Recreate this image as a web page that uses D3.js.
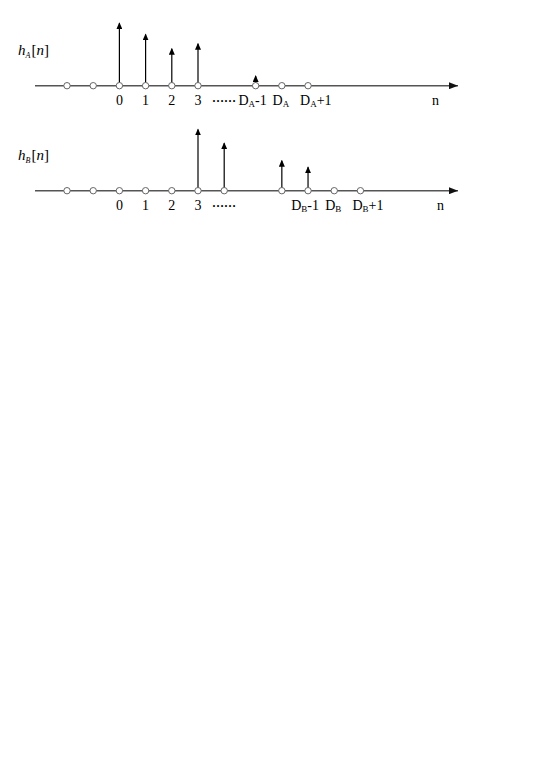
<!DOCTYPE html>
<html>
<head>
<meta charset="utf-8">
<script src="https://cdn.jsdelivr.net/npm/d3@7"></script>
<style>
  body { margin: 0; background: #fff; }
  text { font-family: 'Liberation Serif', 'Times New Roman', serif; fill: #000; }
</style>
</head>
<body>
<div id="chart"></div>
<script>
// sample slots along n (gap after the dots), labels and stem heights
var slotsA = [-2, -1, 0, 1, 2, 3, 5.2, 6.2, 7.2];
var labelsA = ['', '', '0', '1', '2', '3', 'D_A-1', 'D_A', 'D_A+1'];
var heightsA = [0, 0, 1, 0.82, 0.59, 0.67, 0.155, 0, 0];

var slotsB = [-2, -1, 0, 1, 2, 3, 4, 6.2, 7.2, 8.2, 9.2];
var labelsB = ['', '', '0', '1', '2', '3', '', '', 'D_B-1', 'D_B', 'D_B+1'];
var heightsB = [0, 0, 0, 0, 0, 0.98, 0.76, 0.48, 0.375, 0, 0];

var svg = d3.select('#chart').append('svg')
    .attr('width', 548)
    .attr('height', 776);

svg.append('rect').attr('width', 548).attr('height', 776).attr('fill', '#fff');

var defs = svg.append('defs');
defs.append('marker')
    .attr('id', 'stemhead')
    .attr('viewBox', '0 0 7 6')
    .attr('refX', 6).attr('refY', 3)
    .attr('markerWidth', 7).attr('markerHeight', 6)
    .attr('markerUnits', 'userSpaceOnUse')
    .attr('orient', 'auto')
    .append('path').attr('d', 'M0,0 L7,3 L0,6 Z').attr('fill', '#000');
defs.append('marker')
    .attr('id', 'axishead')
    .attr('viewBox', '0 0 9 7')
    .attr('refX', 9).attr('refY', 3.5)
    .attr('markerWidth', 9).attr('markerHeight', 7)
    .attr('markerUnits', 'userSpaceOnUse')
    .attr('orient', 'auto')
    .append('path').attr('d', 'M0,0 L9,3.5 L0,7 Z').attr('fill', '#111');

var x = d3.scaleLinear().domain([-2, 3]).range([67, 198]);
var amp = d3.scaleLinear().domain([0, 1]).range([0, 62.5]);

function drawPanel(axisY, slots, labels, heights, sub, nX) {
    var g = svg.append('g');

    // n axis
    g.append('line')
        .attr('x1', 35).attr('x2', 458)
        .attr('y1', axisY).attr('y2', axisY)
        .attr('stroke', '#555').attr('stroke-width', 1.6)
        .attr('marker-end', 'url(#axishead)');

    // stems
    var pts = slots.map(function(s, i) { return { s: s, h: heights[i], lab: labels[i] }; });
    g.selectAll('line.stem')
        .data(pts.filter(function(d) { return d.h > 0; }))
        .enter()
        .append('line')
        .attr('class', 'stem')
        .attr('x1', function(d) { return x(d.s); })
        .attr('x2', function(d) { return x(d.s); })
        .attr('y1', axisY)
        .attr('y2', function(d) { return axisY - amp(d.h); })
        .attr('stroke', '#000').attr('stroke-width', 1.2)
        .attr('marker-end', 'url(#stemhead)');

    // sample circles
    g.selectAll('circle')
        .data(pts)
        .enter()
        .append('circle')
        .attr('cx', function(d) { return x(d.s); })
        .attr('cy', axisY)
        .attr('r', 3.2)
        .attr('fill', '#fff')
        .attr('stroke', '#666')
        .attr('stroke-width', 1);

    // tick labels
    pts.filter(function(d) { return d.lab !== ''; }).forEach(function(d) {
        var t = g.append('text')
            .attr('y', axisY + 19)
            .style('font-size', '14px');
        if (d.lab.indexOf('_') < 0) {
            t.attr('x', x(d.s)).attr('text-anchor', 'middle').text(d.lab);
            return;
        }
        var parts = d.lab.split('_');
        var rest = parts[1].slice(1);
        var dx = -1;
        var anchor = 'middle';
        if (rest === '+1') { anchor = 'start'; dx = -8; }
        if (rest === '-1') { dx = -3; }
        t.attr('x', x(d.s) + dx).attr('text-anchor', anchor);
        t.append('tspan').text(parts[0]);
        t.append('tspan').attr('dy', 2).style('font-size', '9px').text(parts[1][0]);
        if (rest) t.append('tspan').attr('dy', -2).text(rest);
    });

    // dots after 3
    g.append('text')
        .attr('x', x(3) + 14)
        .attr('y', axisY + 16)
        .style('font-size', '12px')
        .style('font-weight', 'bold')
        .text('\u2026\u2026');

    // n label
    g.append('text')
        .attr('x', nX)
        .attr('y', axisY + 19)
        .style('font-size', '14px')
        .text('n');

    // h_X[n] title
    var h = g.append('text')
        .attr('x', 18)
        .attr('y', axisY - 31)
        .style('font-size', '15px');
    h.append('tspan').style('font-style', 'italic').text('h');
    h.append('tspan').attr('dy', 3).style('font-size', '8px').style('font-style', 'italic').text(sub);
    h.append('tspan').attr('dy', -3).attr('dx', 1).text('[');
    h.append('tspan').style('font-style', 'italic').text('n');
    h.append('tspan').text(']');
}

drawPanel(85.7, slotsA, labelsA, heightsA, 'A', 432);
drawPanel(190.7, slotsB, labelsB, heightsB, 'B', 437);
</script>
</body>
</html>
